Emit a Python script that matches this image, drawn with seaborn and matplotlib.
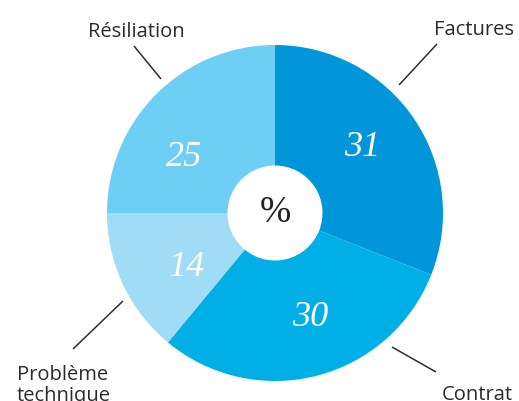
import matplotlib
matplotlib.use("Agg")
import matplotlib.pyplot as plt
import seaborn as sns

# Reasons for contacting customer service, in percent
categories = ["Factures", "Contrat", "Problème\ntechnique", "Résiliation"]
values = [31, 30, 14, 25]
colors = ["#0096d9", "#00afe6", "#a1dcf6", "#6ecff5"]

sns.set_theme(style="white")
plt.rcParams["font.family"] = ["Open Sans", "DejaVu Sans"]

W, H = 519, 401
fig = plt.figure(figsize=(W / 100, H / 100), dpi=100)
ax = fig.add_axes([0, 0, 1, 1])


def py(y):
    """Convert a top-down pixel row into axes y."""
    return H - y


cx, cy = 275, py(213)
R_OUT, R_IN = 168, 47.5

ax.pie(values, colors=colors, startangle=90, counterclock=False,
       center=(cx, cy), radius=R_OUT, frame=True,
       wedgeprops=dict(width=R_OUT - R_IN, linewidth=0))
ax.set_xlim(0, W)
ax.set_ylim(0, H)
ax.axis("off")

# value labels inside the ring
value_pos = [(362, 148), (310, 318), (187, 268), (184, 157)]
for v, (x, y) in zip(values, value_pos):
    ax.text(x, py(y), str(v), color="white", fontsize=26, style="italic",
            family="Liberation Serif", ha="center", va="center")

ax.text(cx, cy, "%", color="#222222", fontsize=27, family="Liberation Serif",
        ha="center", va="center")

# category labels with leader lines (text anchored on its last baseline)
label_spec = [
    dict(xy=(514, 35), ha="right", line=((437, 44), (399, 85))),
    dict(xy=(513, 400), ha="right", line=((436, 372), (392, 347))),
    dict(xy=(17, 401), ha="left", line=((73, 349), (123, 301))),
    dict(xy=(136, 37), ha="center", line=((134, 46), (161, 79))),
]
for name, spec in zip(categories, label_spec):
    (x0, y0), (x1, y1) = spec["line"]
    ax.plot([x0, x1], [py(y0), py(y1)], color="#2e2e2e", lw=1.1,
            solid_capstyle="butt")
    x, y = spec["xy"]
    ax.text(x, py(y), name, color="#2b2b2b", fontsize=14.5, ha=spec["ha"],
            va="baseline", linespacing=1.05)

fig.savefig("out.png", dpi=100)
